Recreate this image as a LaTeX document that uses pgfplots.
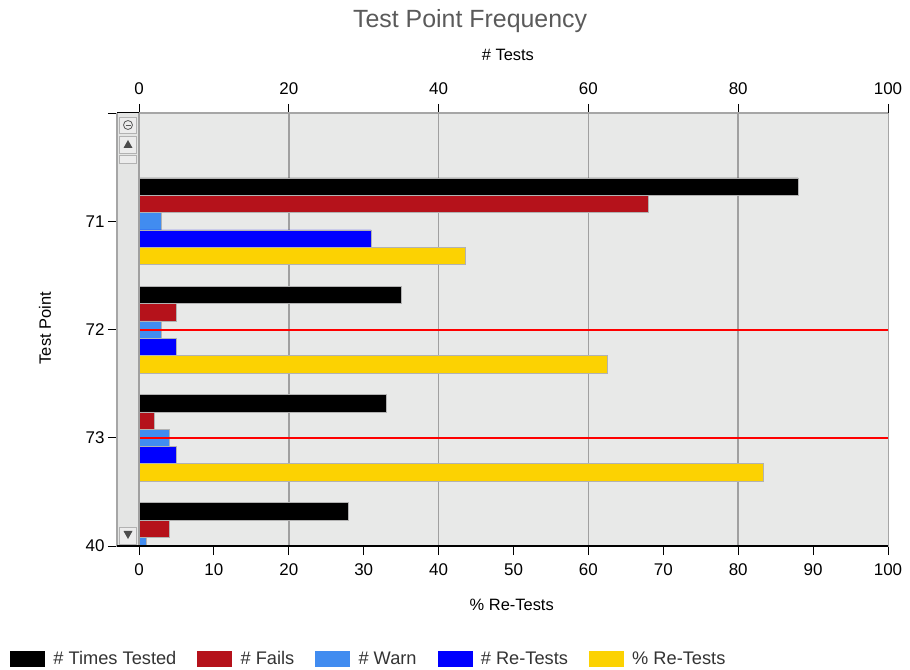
\documentclass[border=0pt]{standalone}
\usepackage{fontspec}
\setmainfont{Liberation Sans}
\usepackage{pgfplots}
\pgfplotsset{compat=1.18}
\definecolor{bgcol}{HTML}{E8E9E8}
\definecolor{scrollc}{HTML}{E4E5E4}
\definecolor{btnc}{HTML}{ECECEC}
\definecolor{cTT}{HTML}{000000}
\definecolor{cF}{HTML}{B5121B}
\definecolor{cW}{HTML}{418CF0}
\definecolor{cRT}{HTML}{0000FF}
\definecolor{cPRT}{HTML}{FCD202}
\definecolor{cLine}{HTML}{FF0000}
\definecolor{gridc}{HTML}{A0A0A0}
\definecolor{titlec}{HTML}{5A5A5A}
\begin{document}
\begin{tikzpicture}
\pgfplotsset{
  common/.style={
    scale only axis, width=771bp, height=433bp,
    xmin=-2.94, xmax=100, ymin=0, ymax=4, y dir=reverse,
    /pgf/number format/assume math mode=true,
    tick align=outside,
    tick label style={font=\fontsize{17}{20}\selectfont},
    major tick length=9bp,
    tick style={black, line width=0.9bp},
    label style={font=\fontsize{16.5}{20}\selectfont},
  },
}
\begin{axis}[common, name=main,
  axis background/.style={fill=bgcol},
  axis line style={gray!70, line width=1bp},
  xtick={0,10,...,100}, xtick pos=bottom,
  xticklabel style={yshift=-5bp},
  ytick={0,1,2,3,4}, yticklabels={,71,72,73,40}, ytick pos=left,
  extra x ticks={0,20,40,60,80}, extra x tick labels={},
  extra x tick style={grid=major, tick style={draw=none}},
  major grid style={gridc, line width=1.6bp},
  xlabel={\% Re-Tests},
  xlabel style={at={(axis description cs:0.512,-0.136)}, anchor=center},
  ylabel={Test Point},
  ylabel style={at={(axis description cs:-0.0934,0.503)}, anchor=center, rotate=0},
  title={Test Point Frequency},
  title style={at={(axis description cs:0.458,1.215)}, anchor=center, yshift=-7bp,
    font=\fontsize{25}{30}\selectfont, text=titlec},
  legend columns=5,
  legend style={at={(-0.1388,-0.261)}, anchor=west, draw=none, fill=none,
    inner sep=0pt, font=\fontsize{18.3}{21}\selectfont, text=black!80,
    /tikz/every even column/.append style={column sep=19bp}},
  legend image code/.code={\path[fill,#1,draw=none] (0bp,-8bp) rectangle (35bp,8bp);
    \path (41bp,0bp);},
]
\addplot[xbar, bar width=0.16, bar shift=-0.32, fill=cTT, draw=gray!60, line width=0.5bp]
  coordinates {(88,1) (35,2) (33,3) (28,4)};
\addlegendentry{\# Times Tested}
\addplot[xbar, bar width=0.16, bar shift=-0.16, fill=cF, draw=gray!60, line width=0.5bp]
  coordinates {(68,1) (5,2) (2,3) (4,4)};
\addlegendentry{\# Fails}
\addplot[xbar, bar width=0.16, bar shift=0, fill=cW, draw=gray!60, line width=0.5bp]
  coordinates {(3,1) (3,2) (4,3) (1,4)};
\addlegendentry{\# Warn}
\addplot[xbar, bar width=0.16, bar shift=0.16, fill=cRT, draw=gray!60, line width=0.5bp]
  coordinates {(31,1) (5,2) (5,3)};
\addlegendentry{\# Re-Tests}
\addplot[xbar, bar width=0.16, bar shift=0.32, fill=cPRT, draw=gray!60, line width=0.5bp]
  coordinates {(43.5,1) (62.5,2) (83.3,3)};
\addlegendentry{\% Re-Tests}
\addplot[forget plot, draw=cLine, line width=2bp, mark=none] coordinates {(0,2) (100,2)};
\addplot[forget plot, draw=cLine, line width=2bp, mark=none] coordinates {(0,3) (100,3)};
\end{axis}
\begin{axis}[common,
  axis x line*=top, axis y line=none,
  axis line style={gray!70, line width=1bp},
  xtick={0,20,...,100},
  xticklabel style={yshift=6bp},
  xlabel={\# Tests},
  xlabel style={at={(axis description cs:0.507,1.134)}, anchor=center},
]
\addplot[draw=none] coordinates {(0,0)};
\end{axis}
\begin{scope}[shift={(main.south west)}, x=1bp, y=1bp]
  \fill[scrollc] (0,0) rectangle (22,433);
  \draw[gray!70, line width=1bp] (0,0) -- (0,433);
  \draw[gridc, line width=1.6bp] (22,0) -- (22,433);
  \draw[gray!60, fill=btnc] (2.5,413) rectangle (19.5,429);
  \draw[gray!70!black, line width=0.8bp] (11,421) circle (4.5);
  \draw[gray!70!black, line width=0.8bp] (8.5,421) -- (13.5,421);
  \draw[gray!60, fill=btnc] (2.5,393) rectangle (19.5,410);
  \fill[gray!60!black] (6.5,398) -- (15.5,398) -- (11,406) -- cycle;
  \draw[gray!60, fill=btnc] (2.5,383) rectangle (19.5,391);
  \draw[gray!60, fill=btnc] (2.5,2) rectangle (19.5,19);
  \fill[gray!60!black] (6.5,15) -- (15.5,15) -- (11,7) -- cycle;
  \draw[black, line width=1.2bp] (0,0) -- (771,0);
  \draw[black, line width=1bp] (0,433) -- (22,433);
\end{scope}
\path (main.south west) ++(-117bp,-124bp) rectangle ++(910bp,670bp);
\end{tikzpicture}
\end{document}
